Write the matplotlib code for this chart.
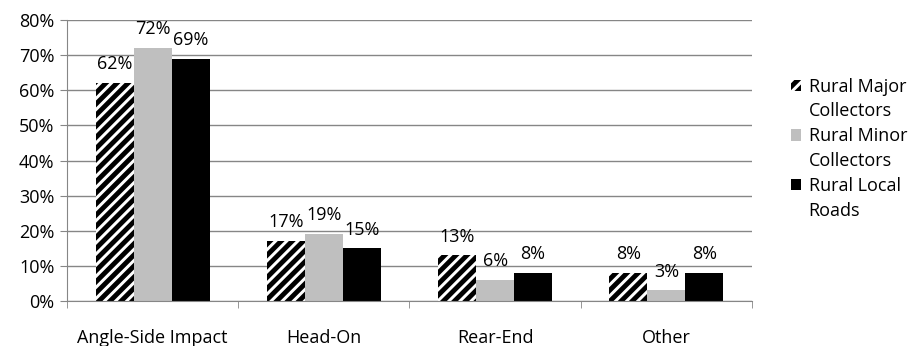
import numpy as np
import matplotlib.pyplot as plt
from matplotlib.patches import Patch

plt.rcParams['font.family'] = ['Open Sans', 'DejaVu Sans']
plt.rcParams['hatch.linewidth'] = 3.5

categories = ['Angle-Side Impact', 'Head-On', 'Rear-End', 'Other']
major = [62, 17, 13, 8]
minor = [72, 19, 6, 3]
local = [69, 15, 8, 8]
series_names = [('Rural Major', 'Collectors'), ('Rural Minor', 'Collectors'), ('Rural Local', 'Roads')]

fig = plt.figure(figsize=(9.12, 3.46), dpi=100)
ax = fig.add_axes([0.0735, 0.130, 0.751, 0.812])

x = np.arange(len(categories))
w = 0.222
b1 = ax.bar(x - w, major, w, color='white', edgecolor='black', hatch='///', linewidth=0)
b2 = ax.bar(x, minor, w, color='#bfbfbf', linewidth=0)
b3 = ax.bar(x + w, local, w, color='black', linewidth=0)

for bars, vals in [(b1, major), (b2, minor), (b3, local)]:
    for r, v in zip(bars, vals):
        ax.text(r.get_x() + r.get_width() / 2, v + 2.8, f'{v}%',
                ha='center', va='bottom', fontsize=13)

ax.set_ylim(0, 80)
ax.set_yticks(range(0, 81, 10))
ax.set_yticklabels([f'{t}%' for t in range(0, 81, 10)], fontsize=13)
ax.set_xlim(-0.5, len(categories) - 0.5)
ax.set_xticks(x)
ax.set_xticklabels(categories, fontsize=13)
ax.set_xticks(np.arange(-0.5, len(categories)), minor=True)
ax.tick_params(axis='x', which='major', length=0, pad=20)
ax.tick_params(axis='x', which='minor', length=5, color='#868686')
ax.tick_params(axis='y', length=5, color='#868686', pad=4)

ax.yaxis.grid(True, color='#868686', linewidth=1)
ax.set_axisbelow(True)
for s in ['top', 'right']:
    ax.spines[s].set_visible(False)
for s in ['left', 'bottom']:
    ax.spines[s].set_color('#868686')

# legend: marker beside the first line of each wrapped name
swatches = [Patch(facecolor='white', edgecolor='black', hatch='///', linewidth=0),
            Patch(facecolor='#bfbfbf'),
            Patch(facecolor='black')]
handles, labels = [], []
for sw, (first, second) in zip(swatches, series_names):
    handles += [sw, Patch(facecolor='none', edgecolor='none')]
    labels += [first, second]
leg = fig.legend(handles, labels, loc='center left', bbox_to_anchor=(0.857, 0.57),
                 frameon=False, fontsize=13, handlelength=0.6, handleheight=0.6,
                 handletextpad=0.4, labelspacing=0.38, borderpad=0)

fig.savefig('out.png', dpi=100)
